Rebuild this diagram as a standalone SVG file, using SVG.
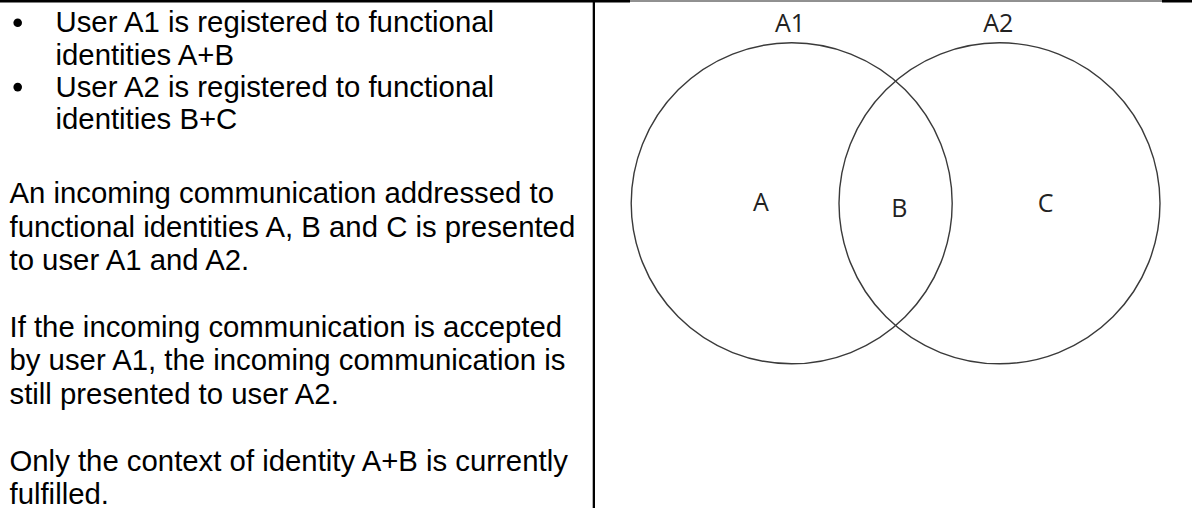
<svg xmlns="http://www.w3.org/2000/svg" width="1192" height="508" viewBox="0 0 1192 508">
  <style>
    .body { font-family: "Liberation Sans", Arial, sans-serif; font-size: 29.33px; fill: #000; }
    .lbl { font-family: "Open Sans", "Liberation Sans", sans-serif; font-size: 25px; fill: #222; text-anchor: middle; }
    .venn { fill: none; stroke: #3a3a3a; stroke-width: 1.4; }
  </style>
  <rect x="0" y="0" width="1192" height="508" fill="#fff"/>
  <g id="table-borders">
    <rect x="0" y="0" width="630" height="2.5" fill="#000"/>
    <line x1="630" y1="1" x2="1162" y2="1" stroke="#222" stroke-width="1"/>
    <rect x="1162" y="0" width="30" height="2.5" fill="#000"/>
    <rect x="592.7" y="0" width="2.3" height="508" fill="#000"/>
  </g>
  <g id="description">
    <circle cx="17.7" cy="22.7" r="4.3" fill="#000"/>
    <circle cx="17.7" cy="87.1" r="4.3" fill="#000"/>
    <text class="body" x="55.5" y="32.3">User A1 is registered to functional</text>
    <text class="body" x="55.5" y="64.5">identities A+B</text>
    <text class="body" x="55.5" y="96.7">User A2 is registered to functional</text>
    <text class="body" x="55.5" y="128.9">identities B+C</text>
    <text class="body" x="9.5" y="203.3">An incoming communication addressed to</text>
    <text class="body" x="9.5" y="236.7">functional identities A, B and C is presented</text>
    <text class="body" x="9.5" y="270.1">to user A1 and A2.</text>
    <text class="body" x="9.5" y="336.9">If the incoming communication is accepted</text>
    <text class="body" x="9.5" y="370.3">by user A1, the incoming communication is</text>
    <text class="body" x="9.5" y="403.7">still presented to user A2.</text>
    <text class="body" x="9.5" y="470.5">Only the context of identity A+B is currently</text>
    <text class="body" x="9.5" y="503.9">fulfilled.</text>
  </g>
  <g id="user-A1">
    <circle class="venn" cx="791.7" cy="203.3" r="160.5"/>
    <text class="lbl" x="790" y="32.3">A1</text>
  </g>
  <g id="user-A2">
    <circle class="venn" cx="999.5" cy="203.3" r="160.5"/>
    <text class="lbl" x="998.3" y="32.3">A2</text>
  </g>
  <g id="identity-A">
    <text class="lbl" x="761" y="211">A</text>
  </g>
  <g id="identity-B">
    <text class="lbl" x="899.3" y="217.3">B</text>
  </g>
  <g id="identity-C">
    <text class="lbl" x="1045.7" y="211.7">C</text>
  </g>
  <g id="connectors"/>
</svg>
